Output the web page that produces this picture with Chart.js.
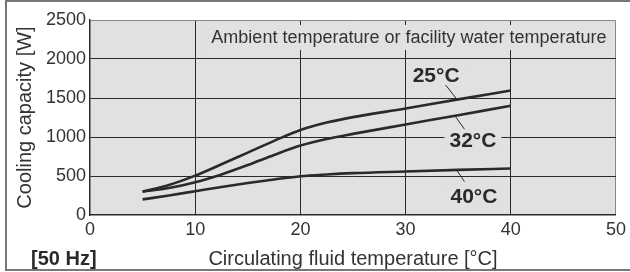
<!DOCTYPE html>
<html>
<head>
<meta charset="utf-8">
<script src="https://cdn.jsdelivr.net/npm/chart.js@4/dist/chart.umd.min.js"></script>
<style>
    body { margin: 0; background: #fff; }
    #wrap { width: 630px; height: 272px; }
</style>
</head>
<body>
<div id="wrap"><canvas id="capChart" width="630" height="272"></canvas></div>
<script>
// ===== DATA =====
const fluidTemp = [5, 7.5, 10, 12.5, 15, 17.5, 20, 22.5, 25, 30, 35, 40];
const cap25 = [300, 385, 505, 650, 800, 950, 1090, 1185, 1255, 1365, 1482, 1595];
const cap32 = [300, 345, 420, 520, 640, 770, 890, 975, 1040, 1160, 1280, 1400];
const cap40 = [200, 250, 305, 360, 410, 455, 497, 520, 537, 558, 578, 597];

const xTicks = [0, 10, 20, 30, 40, 50];
const yTicks = [0, 500, 1000, 1500, 2000, 2500];

const seriesLabels = ["25°C", "32°C", "40°C"];
// label position (data coords) + leader line start/end
const labelPos = [
    { x: 32.9, y: 1788, from: [33.8, 1667], to: [34.8, 1496] },
    { x: 36.4, y: 962, from: [34.7, 1269], to: [35.6, 1099] },
    { x: 36.5, y: 244, from: [34.9, 568], to: [35.6, 427] }
];
const noteText = "Ambient temperature or facility water temperature";
const xTitle = "Circulating fluid temperature [°C]";
const yTitle = "Cooling capacity [W]";
const freqText = "[50 Hz]";

const INK = "#2a2a2a";
const PLOT_BG = "#e1e1e1";
const FONT = "'Liberation Sans', Arial, sans-serif";

function toPoints(ys) {
    return fluidTemp.map((t, i) => ({ x: t, y: ys[i] }));
}

function curve(label, ys) {
    return {
        label: label,
        data: toPoints(ys),
        borderColor: INK,
        borderWidth: 2.6,
        pointRadius: 0,
        cubicInterpolationMode: "monotone",
        fill: false
    };
}

// ===== PLUGINS =====
const plotBackground = {
    id: "plotBackground",
    beforeDraw(chart) {
        const { ctx, chartArea: a } = chart;
        ctx.save();
        ctx.fillStyle = PLOT_BG;
        ctx.fillRect(a.left, a.top, a.right - a.left, a.bottom - a.top);
        ctx.restore();
    }
};

const annotations = {
    id: "annotations",
    beforeDatasetsDraw(chart) {
        const { ctx } = chart;
        const xs = chart.scales.x, ys = chart.scales.y;
        ctx.save();

        // note box at top of plot
        ctx.font = "18px " + FONT;
        const noteRight = xs.getPixelForValue(49.1);
        const noteW = ctx.measureText(noteText).width;
        ctx.fillStyle = PLOT_BG;
        ctx.fillRect(noteRight - noteW - 5, 25, noteW + 10, 25);
        ctx.fillStyle = "#333";
        ctx.textAlign = "right";
        ctx.textBaseline = "middle";
        ctx.fillText(noteText, noteRight, 38);

        // series labels with leader lines
        ctx.font = "bold 21px " + FONT;
        ctx.textAlign = "center";
        seriesLabels.forEach((txt, i) => {
            const p = labelPos[i];
            const cx = xs.getPixelForValue(p.x);
            const cy = ys.getPixelForValue(p.y);
            const w = ctx.measureText(txt).width;
            ctx.fillStyle = PLOT_BG;
            ctx.fillRect(cx - w / 2 - 5, cy - 11, w + 10, 22);
            ctx.fillStyle = INK;
            ctx.fillText(txt, cx, cy + 1);
            ctx.strokeStyle = INK;
            ctx.lineWidth = 1;
            ctx.beginPath();
            ctx.moveTo(xs.getPixelForValue(p.from[0]), ys.getPixelForValue(p.from[1]));
            ctx.lineTo(xs.getPixelForValue(p.to[0]), ys.getPixelForValue(p.to[1]));
            ctx.stroke();
        });
        ctx.restore();
    },
    afterDraw(chart) {
        const { ctx, chartArea: a } = chart;
        ctx.save();
        // axis titles
        ctx.fillStyle = "#333";
        ctx.font = "20px " + FONT;
        ctx.textAlign = "center";
        ctx.textBaseline = "alphabetic";
        ctx.fillText(xTitle, 353, 265);
        ctx.save();
        ctx.translate(31, (a.top + a.bottom) / 2);
        ctx.rotate(-Math.PI / 2);
        ctx.fillText(yTitle, 0, 0);
        ctx.restore();

        ctx.font = "bold 20px " + FONT;
        ctx.textAlign = "left";
        ctx.fillStyle = INK;
        ctx.fillText(freqText, 31, 265);

        // outer frame
        ctx.strokeStyle = "#777";
        ctx.lineWidth = 2;
        ctx.strokeRect(6, 1, 630, 269);
        ctx.restore();
    }
};

// ===== CHART =====
const canvas = document.getElementById("capChart");
new Chart(canvas, {
    type: "line",
    data: {
        datasets: [
            curve(seriesLabels[0], cap25),
            curve(seriesLabels[1], cap32),
            curve(seriesLabels[2], cap40)
        ]
    },
    options: {
        responsive: false,
        animation: false,
        layout: { padding: { left: 0, top: 20, right: 14, bottom: 0 } },
        plugins: { legend: { display: false }, tooltip: { enabled: false } },
        scales: {
            x: {
                type: "linear",
                min: 0,
                max: 50,
                afterBuildTicks: s => { s.ticks = xTicks.map(v => ({ value: v })); },
                afterFit: s => { s.height = 57; },
                ticks: { font: { size: 18, family: FONT }, color: "#333", padding: 4, maxRotation: 0,
                         callback: v => String(v) },
                grid: {
                    drawTicks: false,
                    lineWidth: 1,
                    color: c => c.tick.value === 50 ? "#888" : (c.tick.value === 0 ? "rgba(0,0,0,0)" : INK)
                },
                border: { color: INK, width: 1.5 }
            },
            y: {
                min: 0,
                max: 2500,
                afterBuildTicks: s => { s.ticks = yTicks.map(v => ({ value: v })); },
                afterFit: s => { s.width = 90; },
                ticks: { font: { size: 18, family: FONT }, color: "#333", padding: 4,
                         callback: v => String(v) },
                grid: {
                    drawTicks: false,
                    lineWidth: 1,
                    color: c => c.tick.value === 2500 ? "#888" : (c.tick.value === 0 ? "rgba(0,0,0,0)" : INK)
                },
                border: { color: INK, width: 1.5 }
            }
        }
    },
    plugins: [plotBackground, annotations]
});
</script>
</body>
</html>
